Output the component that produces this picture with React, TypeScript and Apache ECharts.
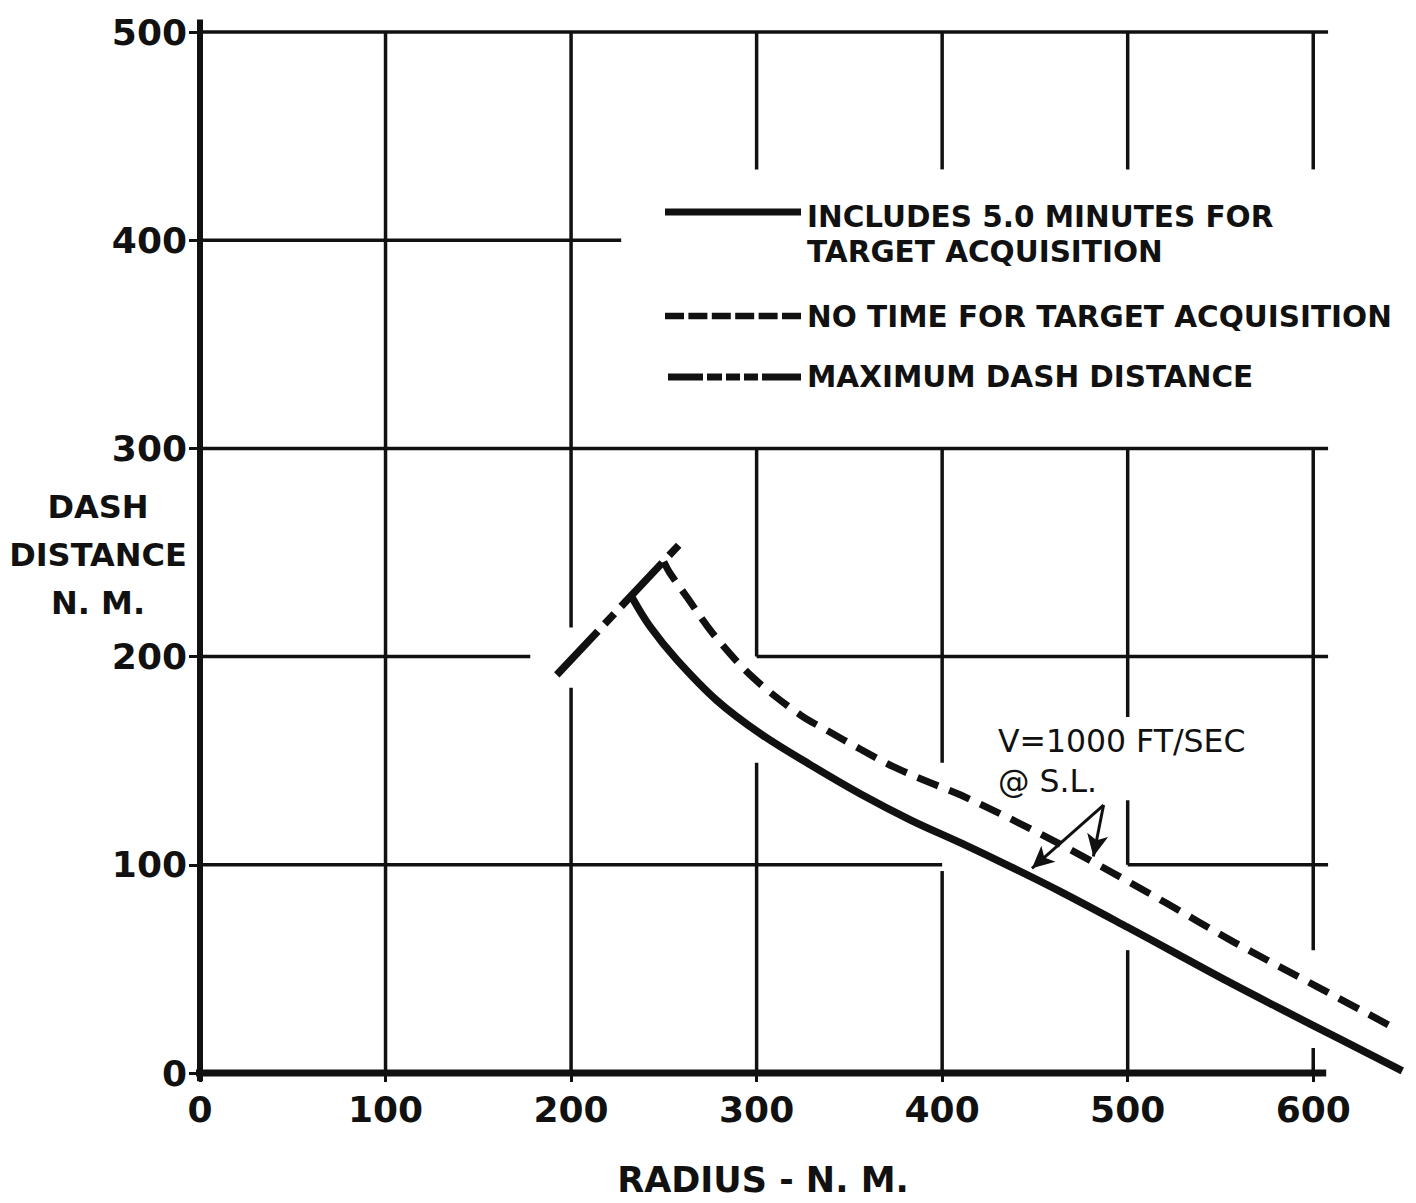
import React, { useEffect, useRef } from "react";
import * as echarts from "echarts";

// ---- data ----
const xTicks = [0, 100, 200, 300, 400, 500, 600];
const yTicks = [0, 100, 200, 300, 400, 500];

// INCLUDES 5.0 MINUTES FOR TARGET ACQUISITION (solid)
const solidCurve: number[][] = [
  [232.5, 229], [242.5, 214.5], [257, 198.5], [278.5, 179], [302, 163],
  [329, 148], [356, 134], [383, 121.5], [410, 110.5], [437, 99],
  [464, 87], [500, 70], [528, 56.5], [555, 43.5], [582, 31], [615, 16], [648, 1],
];

// NO TIME FOR TARGET ACQUISITION (dashed)
const dashedCurve: number[][] = [
  [250, 245.5], [253, 240.5], [262.5, 228.5], [276.5, 211], [298, 190],
  [323.5, 172], [338, 164.5], [356, 155.5], [374, 147], [392, 140],
  [410, 133.5], [446, 118], [481, 101.5], [521, 81.5], [557, 63],
  [602, 41.5], [645, 21],
];

// MAXIMUM DASH DISTANCE (long dash)
const maxDashLine: number[][] = [
  [192.3, 191.2], [261.5, 256.8],
];

// annotation arrows "V=1000 FT/SEC @ S.L."
const arrowFrom = [487, 128.7];
const arrowTips: number[][] = [[448.4, 98.3], [481.5, 104]];

// grid lines with the gaps of the original drawing
const gridH = [
  { y: 500, spans: [[0, 608]] },
  { y: 400, spans: [[0, 227]] },
  { y: 300, spans: [[0, 608]] },
  { y: 200, spans: [[0, 178], [300, 608]] },
  { y: 100, spans: [[0, 400], [500, 608]] },
];
const gridV = [
  { x: 100, spans: [[0, 500]] },
  { x: 200, spans: [[0, 185], [214, 500]] },
  { x: 300, spans: [[0, 149], [200, 300], [434, 500]] },
  { x: 400, spans: [[0, 97], [149, 300], [434, 500]] },
  { x: 500, spans: [[0, 59], [100, 131], [171, 300], [434, 500]] },
  { x: 600, spans: [[0, 12], [59, 300], [434, 500]] },
];
const xAxisLineSpan = [-3, 607];
const yAxisLineSpan = [-4, 506];

const legendTexts = [
  "INCLUDES 5.0 MINUTES FOR",
  "TARGET ACQUISITION",
  "NO TIME FOR TARGET ACQUISITION",
  "MAXIMUM DASH DISTANCE",
];
const annotationTexts = ["V=1000 FT/SEC", "@ S.L."];
const xAxisTitle = "RADIUS - N. M.";
const yAxisTitle = "DASH\nDISTANCE\nN. M.";

export default function App() {
  const ref = useRef<HTMLDivElement>(null);

  useEffect(() => {
    document.body.style.margin = "0";
    const chart = echarts.init(ref.current!, null, { renderer: "svg" });
    const ink = "#111";
    const font = "DejaVu Sans";

    const seg = (data: number[][], width: number): any => ({
      type: "line",
      data,
      symbol: "none",
      silent: true,
      clip: false,
      z: 1,
      lineStyle: { color: ink, width, cap: "butt" },
    });

    const gridSeries: any[] = [];
    gridH.forEach((g) =>
      g.spans.forEach(([a, b]) => gridSeries.push(seg([[a, g.y], [b, g.y]], 3.5)))
    );
    gridV.forEach((g) =>
      g.spans.forEach(([a, b]) => gridSeries.push(seg([[g.x, a], [g.x, b]], 3.5)))
    );
    gridSeries.push(seg([[xAxisLineSpan[0], 0], [xAxisLineSpan[1], 0]], 7));
    gridSeries.push(seg([[0, yAxisLineSpan[0]], [0, yAxisLineSpan[1]]], 6));

    const legendX1 = 665;
    const legendX2 = 801;
    const textX = 807;
    const legendFont = { fontFamily: font, fontSize: 29.5, fontWeight: "bold" };
    const txt = (text: string, x: number, y: number, extra: any = {}) => ({
      type: "text",
      x,
      y,
      silent: true,
      style: {
        text,
        fill: ink,
        align: "left",
        textAlign: "left",
        verticalAlign: "middle",
        textVerticalAlign: "middle",
        ...legendFont,
        ...extra,
      },
    });
    const hline = (x1: number, x2: number, y: number, w: number, dash?: number[]) => ({
      type: "line",
      silent: true,
      shape: { x1, y1: y, x2, y2: y },
      style: { stroke: ink, lineWidth: w, lineDash: dash, lineCap: "butt" },
    });

    const maxLegendPieces = [
      [668, 703], [707, 722], [726, 740], [744, 758], [762, 801],
    ];

    chart.setOption({
      animation: false,
      backgroundColor: "#fff",
      textStyle: { fontFamily: font, color: ink },
      grid: { left: 200, right: 10, top: 32, bottom: 130, containLabel: false },
      xAxis: {
        type: "value",
        min: 0,
        max: 650,
        interval: 100,
        axisLine: { show: false },
        splitLine: { show: false },
        axisTick: {
          show: true,
          customValues: xTicks,
          length: 9,
          lineStyle: { color: ink, width: 3 },
        },
        axisLabel: {
          customValues: xTicks,
          margin: 18,
          fontSize: 36,
          fontWeight: "bold",
          fontFamily: font,
          color: ink,
        },
      },
      yAxis: {
        type: "value",
        min: 0,
        max: 500,
        interval: 100,
        axisLine: { show: false },
        splitLine: { show: false },
        axisTick: {
          show: true,
          customValues: yTicks,
          length: 11,
          lineStyle: { color: ink, width: 3 },
        },
        axisLabel: {
          customValues: yTicks,
          margin: 13,
          fontSize: 36,
          fontWeight: "bold",
          fontFamily: font,
          color: ink,
        },
      },
      series: [
        ...gridSeries,
        {
          name: "INCLUDES 5.0 MINUTES FOR TARGET ACQUISITION",
          type: "line",
          data: solidCurve,
          smooth: 0.35,
          symbol: "none",
          clip: false,
          z: 3,
          lineStyle: { color: ink, width: 7.5, cap: "butt" },
          markLine: {
            silent: true,
            symbol: ["none", "arrow"],
            symbolSize: [16, 22],
            label: { show: false },
            lineStyle: { color: ink, width: 3, type: "solid" },
            data: arrowTips.map((t) => [{ coord: arrowFrom }, { coord: t }]),
          },
        },
        {
          name: "NO TIME FOR TARGET ACQUISITION",
          type: "line",
          data: dashedCurve,
          smooth: 0.35,
          symbol: "none",
          clip: false,
          z: 3,
          lineStyle: { color: ink, width: 7, type: [22, 12], cap: "butt" },
        },
        {
          name: "MAXIMUM DASH DISTANCE",
          type: "line",
          data: maxDashLine,
          symbol: "none",
          clip: false,
          z: 3,
          lineStyle: { color: ink, width: 7.5, type: [60, 10, 14, 10], cap: "butt" },
        },
      ],
      graphic: [
        // legend
        hline(legendX1, legendX2, 212, 7),
        txt(legendTexts[0], textX, 216.5),
        txt(legendTexts[1], textX, 252),
        hline(legendX1, legendX2, 316, 6.5, [19, 4.4]),
        txt(legendTexts[2], textX, 316.5),
        ...maxLegendPieces.map(([a, b]) => hline(a, b, 377, 7)),
        txt(legendTexts[3], textX, 377),
        // annotation
        txt(annotationTexts[0], 998, 741, { fontWeight: "normal", fontSize: 31.5 }),
        txt(annotationTexts[1], 998, 781, { fontWeight: "normal", fontSize: 31.5 }),
        // axis titles
        txt(xAxisTitle, 763, 1180, {
          fontSize: 35,
          align: "center",
          textAlign: "center",
        }),
        txt(yAxisTitle, 98, 555, {
          fontSize: 32,
          lineHeight: 48,
          align: "center",
          textAlign: "center",
        }),
      ],
    });

    return () => chart.dispose();
  }, []);

  return <div ref={ref} style={{ width: 1416, height: 1203 }} />;
}
